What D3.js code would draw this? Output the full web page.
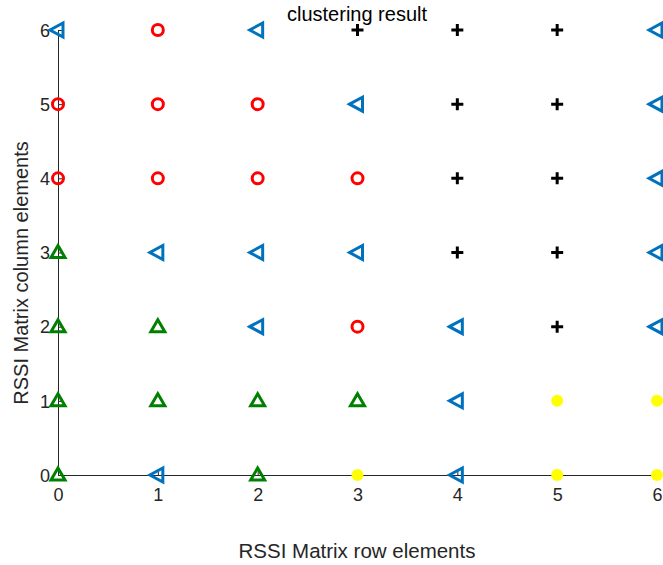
<!DOCTYPE html>
<html><head><meta charset="utf-8">
<script src="https://cdn.jsdelivr.net/npm/d3@7"></script>
<style>body{margin:0;background:#fff;}svg{display:block;font-family:"Liberation Sans",Arial,sans-serif;}</style>
</head><body>
<svg id="chart" width="663" height="565"></svg>
<script>
// Data: cluster membership of each grid cell (row element x, column element y)
const xTicks = [0, 1, 2, 3, 4, 5, 6];
const yTicks = [0, 1, 2, 3, 4, 5, 6];
const clusterCircle   = [[1,6],[0,5],[1,5],[2,5],[0,4],[1,4],[2,4],[3,4],[3,2]];
const clusterLeftTri  = [[0,6],[2,6],[6,6],[3,5],[6,5],[6,4],[1,3],[2,3],[3,3],[6,3],[2,2],[4,2],[6,2],[4,1],[1,0],[4,0]];
const clusterPlus     = [[3,6],[4,6],[5,6],[4,5],[5,5],[4,4],[5,4],[4,3],[5,3],[5,2]];
const clusterUpTri    = [[0,3],[0,2],[1,2],[0,1],[1,1],[2,1],[3,1],[0,0],[2,0]];
const clusterDot      = [[5,1],[6,1],[3,0],[5,0],[6,0]];
const title = "clustering result";
const xLabel = "RSSI Matrix row elements";
const yLabel = "RSSI Matrix column elements";

const svg = d3.select("#chart");
const m = {left:58, right:6, top:30, bottom:90};
const W = 663, H = 565;
const x = d3.scaleLinear().domain([0,6]).range([m.left, W - m.right]);
const y = d3.scaleLinear().domain([0,6]).range([H - m.bottom, m.top]);
const axisColor = "#262626";

// axes
const xAxis = svg.append("g").attr("transform", `translate(0,${y(0)})`)
  .call(d3.axisBottom(x).tickValues(xTicks).tickFormat(d3.format("d")).tickSizeInner(-5).tickSizeOuter(0).tickPadding(13));
const yAxis = svg.append("g").attr("transform", `translate(${x(0)},0)`)
  .call(d3.axisLeft(y).tickValues(yTicks).tickFormat(d3.format("d")).tickSizeInner(-5).tickSizeOuter(0).tickPadding(8));
[xAxis, yAxis].forEach(g => {
  g.select(".domain").attr("stroke", axisColor).attr("stroke-width", 1);
  g.selectAll(".tick line").attr("stroke", axisColor);
  g.selectAll(".tick text").attr("fill", axisColor).style("font-size", "18px").style("font-family", "Liberation Sans, Arial, sans-serif");
});
yAxis.selectAll(".tick text").attr("dy", "0.35em");

// markers
const g = svg.append("g");
const sw = 3;
g.selectAll(".circ").data(clusterCircle).join("circle")
  .attr("cx", d => x(d[0])).attr("cy", d => y(d[1])).attr("r", 5.5)
  .attr("fill", "none").attr("stroke", "#FF0000").attr("stroke-width", sw);
g.selectAll(".ltri").data(clusterLeftTri).join("path")
  .attr("d", d => { const cx = x(d[0]), cy = y(d[1]); return `M${cx-8},${cy} L${cx+5},${cy-7} L${cx+5},${cy+7} Z`; })
  .attr("fill", "none").attr("stroke", "#0072BD").attr("stroke-width", sw).attr("stroke-linejoin", "miter");
g.selectAll(".plus").data(clusterPlus).join("path")
  .attr("d", d => { const cx = x(d[0]), cy = y(d[1]); return `M${cx-6},${cy} L${cx+6},${cy} M${cx},${cy-6} L${cx},${cy+6}`; })
  .attr("fill", "none").attr("stroke", "#000").attr("stroke-width", 3);
g.selectAll(".utri").data(clusterUpTri).join("path")
  .attr("d", d => { const cx = x(d[0]), cy = y(d[1]); return `M${cx},${cy-7} L${cx+7},${cy+5} L${cx-7},${cy+5} Z`; })
  .attr("fill", "none").attr("stroke", "#008000").attr("stroke-width", sw).attr("stroke-linejoin", "miter");
g.selectAll(".dot").data(clusterDot).join("circle")
  .attr("cx", d => x(d[0])).attr("cy", d => y(d[1])).attr("r", 6)
  .attr("fill", "#FFFF00").attr("stroke", "none");

// texts
svg.append("text").attr("x", 357).attr("y", 21).attr("text-anchor", "middle")
  .style("font-size", "20px").attr("fill", "#000").text(title);
svg.append("text").attr("x", 357).attr("y", 558).attr("text-anchor", "middle")
  .style("font-size", "20.5px").attr("fill", "#262626").text(xLabel);
svg.append("text").attr("transform", "translate(28,273) rotate(-90)").attr("text-anchor", "middle")
  .style("font-size", "20px").attr("fill", "#262626").text(yLabel);
</script>
</body></html>
